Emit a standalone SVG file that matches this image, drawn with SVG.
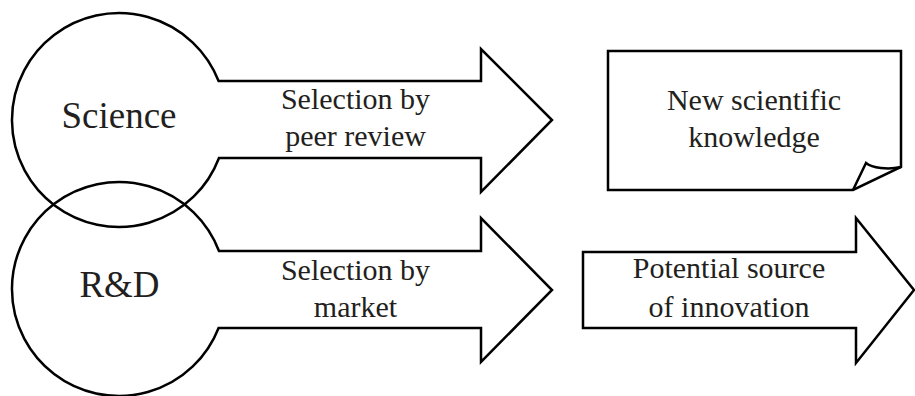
<svg xmlns="http://www.w3.org/2000/svg" width="915" height="396" viewBox="0 0 915 396">
<style>
.shape{fill:none;stroke:#000;stroke-width:2.5;stroke-linejoin:miter}
.big{font-family:"Liberation Serif","Times New Roman",serif;font-size:37px;fill:#231f20;text-anchor:middle}
.lbl{font-family:"Liberation Serif","Times New Roman",serif;font-size:30px;fill:#231f20;text-anchor:middle}
</style>
<rect width="915" height="396" fill="#fff"/>
<g id="science">
<path class="shape" d="M218.6,81 H481 V49 L552,120 L481,192 V158 H219 A107,107 0 1 1 218.6,81 Z"/>
<text class="big" x="119" y="128">Science</text>
<text class="lbl" x="355.5" y="109">Selection by</text>
<text class="lbl" x="355.5" y="146">peer review</text>
</g>
<g id="rnd">
<path class="shape" d="M219,251 H481 V218 L552,290 L481,362 V328 H218.6 A107,107 0 1 1 219,251 Z"/>
<text class="big" x="119.5" y="297">R&amp;D</text>
<text class="lbl" x="355.5" y="280">Selection by</text>
<text class="lbl" x="355.5" y="317">market</text>
</g>
<g id="knowledge">
<path class="shape" d="M608,51 H901 V167 L853,190 H608 Z"/>
<path class="shape" d="M853,190 L866,163 C872,168 888,170 901,167"/>
<text class="lbl" x="754" y="110">New scientific</text>
<text class="lbl" x="754" y="147">knowledge</text>
</g>
<g id="innovation">
<path class="shape" d="M583,252 H856 V218 L914,290 L856,363 V328 H583 Z"/>
<text class="lbl" x="729" y="278">Potential source</text>
<text class="lbl" x="729" y="317">of innovation</text>
</g>
<g id="connectors"></g>
</svg>
